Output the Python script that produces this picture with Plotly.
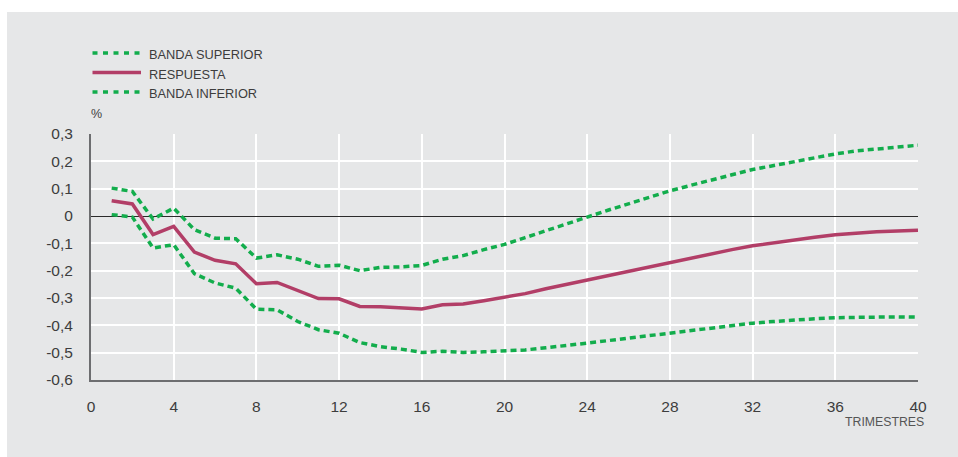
import plotly.graph_objects as go

trimestres = list(range(1, 41))

banda_superior = [0.102, 0.090, -0.011, 0.029, -0.050, -0.081, -0.083, -0.154, -0.142, -0.158,
                  -0.184, -0.180, -0.200, -0.188, -0.186, -0.181, -0.158, -0.145, -0.123, -0.104,
                  -0.079, -0.053, -0.028, -0.004, 0.021, 0.045, 0.070, 0.092, 0.112, 0.133,
                  0.151, 0.170, 0.185, 0.200, 0.215, 0.227, 0.238, 0.246, 0.254, 0.259]

respuesta = [0.056, 0.044, -0.068, -0.038, -0.132, -0.162, -0.175, -0.248, -0.243, -0.274,
             -0.302, -0.303, -0.331, -0.332, -0.336, -0.340, -0.325, -0.322, -0.310, -0.296,
             -0.284, -0.266, -0.250, -0.234, -0.217, -0.202, -0.186, -0.169, -0.154, -0.139,
             -0.123, -0.109, -0.098, -0.088, -0.078, -0.069, -0.062, -0.058, -0.055, -0.052]

banda_inferior = [0.005, -0.004, -0.117, -0.105, -0.211, -0.245, -0.264, -0.341, -0.343, -0.386,
                  -0.416, -0.429, -0.463, -0.478, -0.487, -0.499, -0.495, -0.499, -0.497, -0.495,
                  -0.490, -0.482, -0.475, -0.465, -0.456, -0.447, -0.437, -0.426, -0.417, -0.410,
                  -0.401, -0.392, -0.386, -0.380, -0.376, -0.372, -0.370, -0.369, -0.369, -0.370]

series_names = ["BANDA SUPERIOR", "RESPUESTA", "BANDA INFERIOR"]
series_values = [banda_superior, respuesta, banda_inferior]
series_colors = ["#12ad4c", "#b23e67", "#12ad4c"]
series_dash = ["6px,4px", "solid", "6px,4px"]
legend_dash = ["5px,5.5px", "solid", "5px,5.5px"]

x_tickvals = [0, 4, 8, 12, 16, 20, 24, 28, 32, 36, 40]
y_tickvals = [0.3, 0.2, 0.1, 0.0, -0.1, -0.2, -0.3, -0.4, -0.5, -0.6]
y_ticktext = ["0,3", "0,2", "0,1", "0", "-0,1", "-0,2", "-0,3", "-0,4", "-0,5", "-0,6"]

W, H = 958, 457
ML, MR, MT, MB = 91, 40, 134, 77
PW, PH = W - ML - MR, H - MT - MB

def px_to_paper_x(px):
    return (px - ML) / PW

def px_to_paper_y(py):
    return (H - MB - py) / PH

PANEL = "#e6e7e8"
TEXT = "#3d3d3d"
FONT = "Liberation Sans, Arial, sans-serif"

fig = go.Figure()
for name, vals, col, dash in zip(series_names, series_values, series_colors, series_dash):
    fig.add_trace(go.Scatter(
        x=trimestres, y=vals, mode="lines", name=name,
        line=dict(color=col, width=3.5, dash=dash),
        showlegend=False, hoverinfo="skip",
    ))

shapes = [
    dict(type="rect", xref="paper", yref="paper", layer="below",
         x0=px_to_paper_x(7), x1=px_to_paper_x(W + 5),
         y0=px_to_paper_y(H + 5), y1=px_to_paper_y(12),
         fillcolor=PANEL, line=dict(width=0)),
]
annotations = []
legend_rows = [53, 72.5, 92]
for name, col, dash, ry in zip(series_names, series_colors, legend_dash, legend_rows):
    shapes.append(dict(type="line", xref="paper", yref="paper",
                       x0=px_to_paper_x(92.5), x1=px_to_paper_x(141),
                       y0=px_to_paper_y(ry), y1=px_to_paper_y(ry),
                       line=dict(color=col, width=3.5, dash=dash)))
    annotations.append(dict(xref="paper", yref="paper", x=px_to_paper_x(147), y=px_to_paper_y(ry + 1.5),
                            text=name, showarrow=False, xanchor="left", yanchor="middle",
                            font=dict(family=FONT, size=12.8, color=TEXT)))

annotations.append(dict(xref="paper", yref="paper", x=px_to_paper_x(89), y=px_to_paper_y(114.5),
                        text="%", showarrow=False, xanchor="left", yanchor="middle",
                        font=dict(family=FONT, size=12.5, color=TEXT)))
annotations.append(dict(xref="paper", yref="paper", x=px_to_paper_x(926), y=px_to_paper_y(422),
                        text="TRIMESTRES", showarrow=False, xanchor="right", yanchor="middle",
                        font=dict(family=FONT, size=12.3, color="#555555")))

fig.update_layout(
    width=W, height=H,
    margin=dict(l=ML, r=MR, t=MT, b=MB, pad=0),
    paper_bgcolor="white",
    plot_bgcolor=PANEL,
    showlegend=False,
    shapes=shapes,
    annotations=annotations,
    xaxis=dict(range=[0, 40], tickvals=x_tickvals, ticktext=[str(v) for v in x_tickvals],
               showgrid=True, gridcolor="white", gridwidth=2,
               zeroline=False, showline=True, linecolor="#6d6e70", linewidth=2,
               ticks="", ticklabelstandoff=11,
               tickfont=dict(family=FONT, size=15.5, color=TEXT)),
    yaxis=dict(range=[-0.6, 0.3], tickvals=y_tickvals, ticktext=y_ticktext,
               showgrid=True, gridcolor="white", gridwidth=2,
               zeroline=True, zerolinecolor="#2b2b2b", zerolinewidth=1,
               showline=True, linecolor="#6d6e70", linewidth=2,
               ticks="", ticklabelstandoff=13,
               tickfont=dict(family=FONT, size=15.5, color=TEXT)),
)

fig.write_html("out.html")
